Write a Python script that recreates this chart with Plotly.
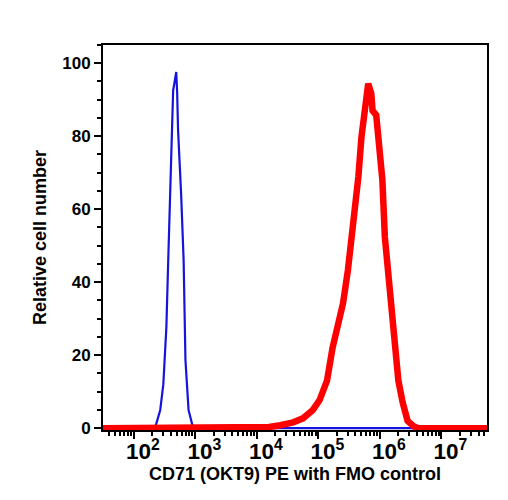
import plotly.graph_objects as go

# FMO control (blue) histogram: log10 fluorescence vs relative cell number
blue_log = [1.5, 2.30, 2.35, 2.43, 2.48, 2.53, 2.56, 2.61, 2.64, 2.665, 2.69, 2.705, 2.72, 2.77, 2.81, 2.84, 2.89, 2.95, 2.99, 3.5, 7.74]
blue_val = [0, 0, 0.3, 5, 12, 27.7, 46, 73, 92.6, 95, 97.6, 92, 81.6, 64, 46, 18.6, 5, 1.0, 0, 0, 0]

# CD71 stained (red) histogram
red_log = [1.5, 4.0, 4.2, 4.38, 4.59, 4.75, 4.91, 5.02, 5.14, 5.23, 5.33, 5.40, 5.48, 5.54, 5.59, 5.65,
           5.70, 5.73, 5.76, 5.81, 5.86, 5.88, 5.94, 6.00, 6.04, 6.08, 6.13, 6.19, 6.22, 6.30, 6.37,
           6.45, 6.55, 6.62, 7.74]
red_val = [0, 0, 0.3, 0.8, 1.6, 2.7, 5, 7.7, 13, 22, 30, 34.2, 43.3, 52.4, 58.9, 68.9,
           79.8, 84.4, 88, 94.4, 91.7, 87, 85.8, 75.3, 68, 52.4, 43.3, 34.2, 27, 13, 7,
           2, 0.5, 0, 0]

x_title = "CD71 (OKT9) PE with FMO control"
y_title = "Relative cell number"

blue_x = [10 ** v for v in blue_log]
red_x = [10 ** v for v in red_log]

fig = go.Figure()
fig.add_trace(go.Scatter(x=blue_x, y=blue_val, mode="lines",
                         line=dict(color="#1414DC", width=2.2), hoverinfo="skip"))
fig.add_trace(go.Scatter(x=red_x, y=red_val, mode="lines",
                         line=dict(color="#FF0000", width=6.5), hoverinfo="skip"))

font_bold = "Liberation Sans"
fig.update_layout(
    width=508, height=500,
    margin=dict(l=103, r=21, t=45, b=70),
    plot_bgcolor="white", paper_bgcolor="white",
    showlegend=False,
    font=dict(family=font_bold, color="black"),
)
fig.update_xaxes(
    type="log", range=[1.5, 7.74],
    dtick=1, exponentformat="power", showexponent="all",
    ticks="outside", ticklen=7, tickwidth=2, tickcolor="black",
    ticklabelshift=9, ticklabelstandoff=-6,
    minor=dict(ticks="outside", ticklen=4, tickwidth=1.5, tickcolor="black", dtick="D1", showgrid=False),
    showline=True, linecolor="black", linewidth=2, mirror=True,
    showgrid=False, zeroline=False,
    tickfont=dict(family=font_bold, size=18, color="black", weight="bold"),
    title=dict(text="<b>" + x_title + "</b>", font=dict(family=font_bold, size=18, color="black"), standoff=4),
)
fig.update_yaxes(
    range=[-0.5, 105], dtick=20, tick0=0,
    ticks="outside", ticklen=7, tickwidth=2, tickcolor="black",
    minor=dict(ticks="outside", ticklen=4, tickwidth=1.5, tickcolor="black", dtick=5, showgrid=False),
    showline=True, linecolor="black", linewidth=2, mirror=True,
    showgrid=False, zeroline=False,
    tickfont=dict(family=font_bold, size=17, color="black", weight="bold"),
    title=dict(text="<b>" + y_title + "</b>", font=dict(family=font_bold, size=18, color="black"), standoff=11),
)

fig.write_html("out.html")
